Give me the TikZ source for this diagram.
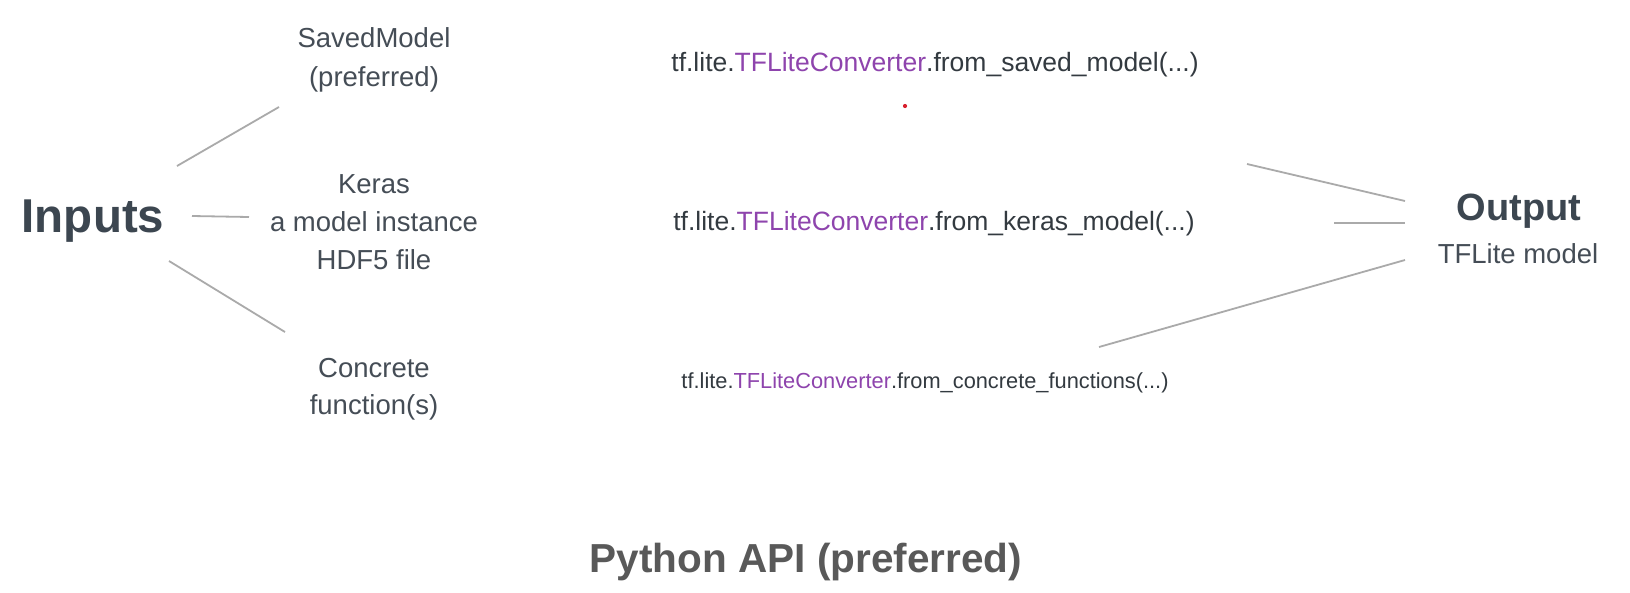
\documentclass[tikz,border=0pt]{standalone}
\usepackage{fontspec}
\setmainfont{Liberation Sans}
\definecolor{slate}{HTML}{3C4650}
\definecolor{labelgray}{HTML}{454D56}
\definecolor{codegray}{HTML}{333A40}
\definecolor{tfpurple}{HTML}{8E44AD}
\definecolor{linegray}{HTML}{AAAAAA}
\definecolor{titlegray}{HTML}{595959}
\definecolor{dotred}{HTML}{D8202E}
\tikzset{
  lbl/.style={inner sep=0pt, anchor=base, text=labelgray, font=\fontsize{27.5}{33}\selectfont},
  codetxt/.style={inner sep=0pt, anchor=base, text=codegray, font=\fontsize{26.5}{32}\selectfont},
  codesmall/.style={inner sep=0pt, anchor=base, text=codegray, font=\fontsize{21.8}{26}\selectfont},
  bigbold/.style={inner sep=0pt, anchor=base, text=slate, font=\bfseries\fontsize{47.5}{56}\selectfont},
  outbold/.style={inner sep=0pt, anchor=base, text=slate, font=\bfseries\fontsize{38}{46}\selectfont},
  titletxt/.style={inner sep=0pt, anchor=base, text=titlegray, font=\bfseries\fontsize{40.5}{48}\selectfont},
  conn/.style={draw=linegray, line width=1.8pt},
}
\begin{document}
\begin{tikzpicture}[x=1pt,y=-1pt]
\useasboundingbox[fill=white] (0,0) rectangle (1630,592);
% left
\node[bigbold] (inputs) at (93,232) {Inputs};
\node[lbl] (sm1) at (374,47) {SavedModel};
\node[lbl] (sm2) at (374,86) {(preferred)};
\node[lbl] (k1) at (374,193) {Keras};
\node[lbl] (k2) at (374,231) {a model instance};
\node[lbl] (k3) at (374,269) {HDF5 file};
\node[lbl] (cf1) at (374,377) {Concrete};
\node[lbl] (cf2) at (374,414) {function(s)};
% middle
\node[codetxt] (c1) at (935,71) {tf.lite.\textcolor{tfpurple}{TFLiteConverter}.from\_saved\_model(...)};
\node[codetxt] (c2) at (934,230) {tf.lite.\textcolor{tfpurple}{TFLiteConverter}.from\_keras\_model(...)};
\node[codesmall] (c3) at (925,388) {tf.lite.\textcolor{tfpurple}{TFLiteConverter}.from\_concrete\_functions(...)};
% right
\node[outbold] (output) at (1519,220) {Output};
\node[lbl] (tfl) at (1518,263) {TFLite model};
% title
\node[titletxt] (title) at (806,572) {Python API (preferred)};
% red dot
\fill[dotred] (905,106) circle (2.1);
% connector ends
\coordinate (l1a) at (177,166); \coordinate (l1b) at (279,107);
\coordinate (l2a) at (192,216); \coordinate (l2b) at (249,217);
\coordinate (l3a) at (169,261); \coordinate (l3b) at (285,332);
\coordinate (r1a) at (1247,164); \coordinate (r1b) at (1405,201);
\coordinate (r2a) at (1334,223); \coordinate (r2b) at (1405,223);
\coordinate (r3a) at (1099,347); \coordinate (r3b) at (1405,260);
\draw[conn] (l1a) -- (l1b);
\draw[conn] (l2a) -- (l2b);
\draw[conn] (l3a) -- (l3b);
\draw[conn] (r1a) -- (r1b);
\draw[conn] (r2a) -- (r2b);
\draw[conn] (r3a) -- (r3b);
\end{tikzpicture}
\end{document}
